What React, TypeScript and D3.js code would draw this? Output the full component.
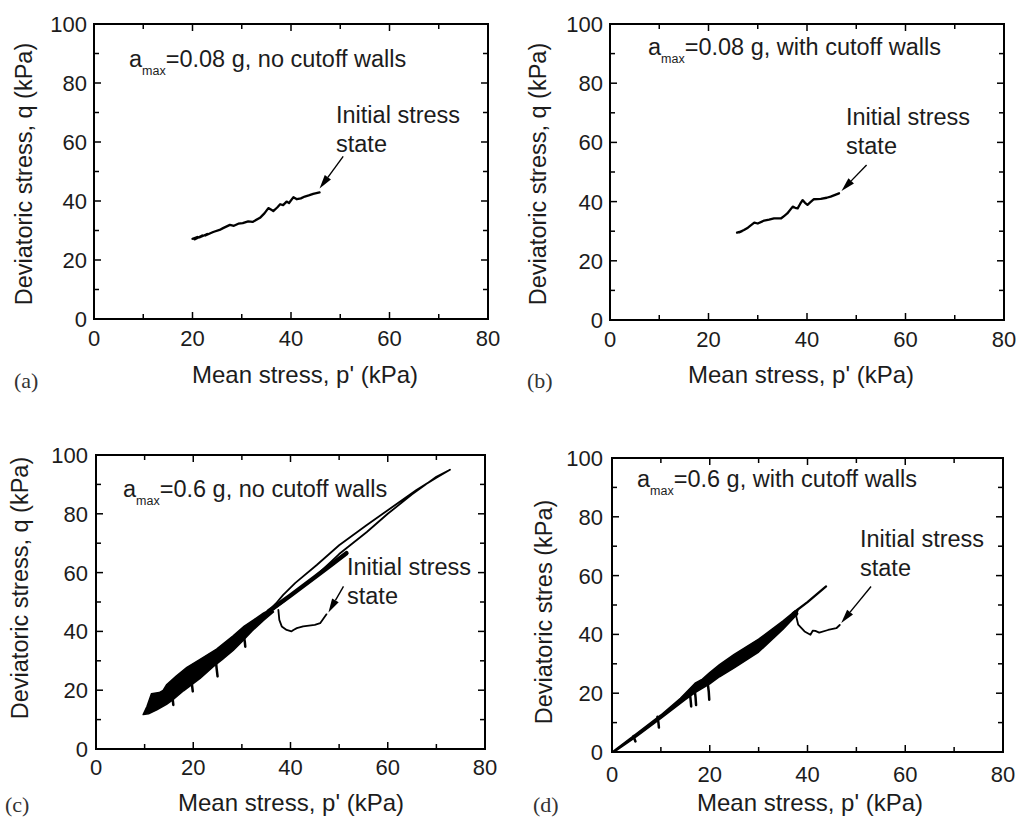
import React from "react";
import * as d3 from "d3";

type Pt = [number, number];

// ---- axis ticks ----
const xMajor = [0, 20, 40, 60, 80];
const xMinor = [10, 30, 50, 70];
const yMajor = [0, 20, 40, 60, 80, 100];
const yMinor = [10, 30, 50, 70, 90];

// ---- panel (a): a_max = 0.08 g, no cutoff walls ----
const pathA: Pt[] = [
  [20.0, 27.2], [21.0, 27.8], [20.4, 27.0], [22.0, 28.3], [21.5, 27.7], [23.0, 28.8],
  [22.6, 28.3], [24.2, 29.5], [25.5, 30.2], [26.2, 30.8], [27.6, 31.9], [28.4, 31.6],
  [29.3, 32.3], [30.2, 32.5], [31.3, 33.1], [32.2, 32.9], [33.7, 34.3], [34.6, 35.8],
  [35.4, 37.6], [36.0, 37.0], [36.4, 36.6], [37.2, 37.8], [37.8, 38.9], [38.4, 38.6],
  [39.1, 39.8], [39.6, 39.3], [40.5, 41.3], [41.2, 40.6], [42.0, 40.9], [42.8, 41.5],
  [43.6, 41.9], [44.5, 42.4], [45.8, 42.9],
];
const arrowA: Pt[] = [[50.6, 55.1], [45.8, 44.2]];

// ---- panel (b): a_max = 0.08 g, with cutoff walls ----
const pathB: Pt[] = [
  [25.8, 29.5], [26.8, 30.0], [26.2, 29.6], [27.2, 30.4], [28.0, 31.2], [29.3, 32.9],
  [30.0, 32.6], [31.3, 33.6], [32.3, 33.9], [33.3, 34.3], [34.7, 34.3], [35.4, 35.2],
  [36.0, 36.0], [37.1, 38.3], [37.6, 37.9], [38.1, 37.7], [38.6, 39.2], [39.1, 40.5],
  [39.6, 39.6], [40.1, 38.9], [40.7, 39.8], [41.4, 40.8], [42.8, 40.9], [44.0, 41.3],
  [44.8, 41.7], [46.5, 42.8],
];
const arrowB: Pt[] = [[52.1, 52.4], [47.0, 43.6]];

// ---- panel (c): a_max = 0.6 g, no cutoff walls ----
const bandC: Pt[] = [
  [9.7, 11.7], [10.5, 14.5], [11.4, 18.8], [13.0, 19.2], [13.8, 19.9], [14.5, 21.8],
  [16.5, 24.8], [18.7, 27.8], [21.4, 30.5], [24.8, 34.0], [28.2, 38.5], [30.5, 41.8],
  [32.5, 44.0], [34.5, 46.3], [36.0, 47.6],
  [36.5, 46.6], [34.5, 43.8], [32.0, 40.0], [30.0, 36.5], [28.2, 33.5], [26.0, 30.5],
  [24.1, 28.0], [21.4, 24.0], [18.0, 19.8], [16.0, 17.0], [14.5, 15.2], [12.5, 13.3],
  [10.8, 12.0],
];
const spikesC: Pt[][] = [
  [[24.6, 30.8], [24.8, 27.5], [25.0, 24.7]],
  [[30.3, 39.5], [30.6, 36.5], [30.7, 34.8]],
  [[15.6, 18.5], [15.8, 16.5], [15.9, 15.0]],
  [[19.6, 23.5], [19.8, 21.0], [19.9, 19.6]],
];
const loopC: Pt[] = [
  [35.5, 47.0], [37.0, 49.5], [38.5, 52.4], [41.0, 56.5], [45.4, 62.6], [50.0, 69.3],
  [55.7, 76.2], [60.0, 81.2], [65.9, 88.1], [70.0, 92.3], [72.8, 95.0], [70.0, 92.6],
  [65.0, 86.6], [60.0, 80.0], [55.7, 73.8], [50.0, 66.3], [45.4, 59.1], [41.0, 53.5],
  [38.5, 50.0], [36.0, 47.0],
];
const thickC: Pt[] = [[35.5, 46.8], [40.0, 52.2], [45.0, 58.4], [48.0, 62.2], [51.5, 66.6]];
const initC: Pt[] = [
  [47.4, 45.8], [46.1, 42.8], [45.0, 42.2], [42.6, 41.7], [41.3, 41.1], [40.6, 40.5],
  [40.2, 40.0], [39.2, 40.5], [38.2, 41.7], [37.7, 43.9], [37.5, 47.3],
];
const arrowC: Pt[] = [[50.9, 55.3], [47.8, 46.4]];

// ---- panel (d): a_max = 0.6 g, with cutoff walls ----
const bandD: Pt[] = [
  [0, 0], [5, 6.3], [10, 12.6], [14, 18.3], [15.5, 20.8], [17, 23.4], [18.5, 24.8],
  [20, 27.0], [22, 29.7], [25, 33.2], [30, 38.4], [35, 44.6], [37.5, 48.0],
  [38, 47.0], [35, 41.8], [30, 34.0], [25, 28.6], [22, 25.6], [20, 23.2], [17, 20.2],
  [15, 17.8], [10, 11.4], [5, 5.2], [1, 0.6],
];
const tailD: Pt[] = [[37.0, 47.2], [40.0, 51.0], [43.8, 56.3]];
const spikesD: Pt[][] = [
  [[9.3, 12.0], [9.5, 10.0], [9.6, 8.3]],
  [[15.9, 20.5], [16.1, 17.5], [16.2, 15.5]],
  [[16.9, 21.5], [17.1, 18.5], [17.2, 16.0]],
  [[19.5, 24.5], [19.8, 20.5], [19.9, 17.8]],
  [[4.4, 5.4], [4.6, 4.4], [4.8, 3.6]],
];
const initD: Pt[] = [
  [46.6, 43.2], [45.9, 42.1], [44.2, 41.5], [42.4, 40.6], [41.6, 41.2], [41.1, 41.3],
  [40.6, 39.9], [39.4, 41.0], [38.1, 43.3], [37.7, 46.1], [38.0, 48.4],
];
const arrowD: Pt[] = [[53.0, 56.3], [46.9, 43.9]];

// ---- texts ----
const xTitle = "Mean stress, p' (kPa)";
const yTitleQ = "Deviatoric stress, q (kPa)";
const yTitleD = "Deviatoric stres (kPa)";
const annotA = "=0.08 g, no cutoff walls";
const annotB = "=0.08 g, with cutoff walls";
const annotC = "=0.6 g, no cutoff walls";
const annotD = "=0.6 g, with cutoff walls";

const SANS = "'Liberation Sans', Arial, Helvetica, sans-serif";
const SERIF = "'Liberation Serif', 'Times New Roman', serif";
const TXT = "#1c1c1c";
const FS_TICK = 22;
const FS_TEXT = 23.5;

type PanelProps = {
  L: number; R: number; T: number; B: number;
  fills?: Pt[][];
  lines: { pts: Pt[]; w: number }[];
  arrow: Pt[];
  annot: string; annotX: number; annotY: number;
  initX: number; initY: number;
  xTitleX: number; xTitleY: number;
  yTitle: string; yTitleX: number; yTitleY: number;
  tag: string; tagX: number; tagY: number;
  xLabOff: number; yLabGap: number;
};

function Panel(p: PanelProps) {
  const x = d3.scaleLinear().domain([0, 80]).range([p.L, p.R]);
  const y = d3.scaleLinear().domain([0, 100]).range([p.B, p.T]);
  const line = d3.line<Pt>().x((d) => x(d[0])).y((d) => y(d[1]));
  const MAJ = 7;
  const MIN = 5;

  const [s, t] = p.arrow;
  const sx = x(s[0]), sy = y(s[1]), tx = x(t[0]), ty = y(t[1]);
  const ang = Math.atan2(ty - sy, tx - sx);
  const hl = 14, hw = 3.8;
  const bx = tx - hl * Math.cos(ang), by = ty - hl * Math.sin(ang);
  const head = [
    [tx, ty],
    [bx + hw * Math.sin(ang), by - hw * Math.cos(ang)],
    [bx - hw * Math.sin(ang), by + hw * Math.cos(ang)],
  ].map((q) => q.join(",")).join(" ");

  return (
    <g>
      {(p.fills || []).map((f, i) => (
        <path key={"f" + i} d={line(f) + "Z"} fill="#000" stroke="#000" strokeWidth={1.5} strokeLinejoin="round" />
      ))}
      {p.lines.map((l, i) => (
        <path key={"l" + i} d={line(l.pts) || ""} fill="none" stroke="#000" strokeWidth={l.w} strokeLinejoin="round" strokeLinecap="round" />
      ))}
      <line x1={sx} y1={sy} x2={bx} y2={by} stroke="#000" strokeWidth={1.4} />
      <polygon points={head} fill="#000" />

      {/* ticks */}
      {xMajor.concat(xMinor).map((v) => {
        const len = xMajor.includes(v) ? MAJ : MIN;
        return (
          <g key={"xt" + v}>
            <line x1={x(v)} x2={x(v)} y1={p.B} y2={p.B - len} stroke="#000" strokeWidth={1.5} />
            <line x1={x(v)} x2={x(v)} y1={p.T} y2={p.T + len} stroke="#000" strokeWidth={1.5} />
          </g>
        );
      })}
      {yMajor.concat(yMinor).map((v) => {
        const len = yMajor.includes(v) ? MAJ : MIN;
        return (
          <g key={"yt" + v}>
            <line y1={y(v)} y2={y(v)} x1={p.L} x2={p.L + len} stroke="#000" strokeWidth={1.5} />
            <line y1={y(v)} y2={y(v)} x1={p.R} x2={p.R - len} stroke="#000" strokeWidth={1.5} />
          </g>
        );
      })}
      <rect x={p.L} y={p.T} width={p.R - p.L} height={p.B - p.T} fill="none" stroke="#000" strokeWidth={2} />

      {/* tick labels */}
      {xMajor.map((v) => (
        <text key={"xl" + v} x={x(v)} y={p.B + p.xLabOff} textAnchor="middle" fontFamily={SANS} fontSize={FS_TICK} fill={TXT}>
          {v}
        </text>
      ))}
      {yMajor.map((v) => (
        <text key={"yl" + v} x={p.L - p.yLabGap} y={y(v)} dy="0.36em" textAnchor="end" fontFamily={SANS} fontSize={FS_TICK} fill={TXT}>
          {v}
        </text>
      ))}

      {/* annotation */}
      <text x={p.annotX} y={p.annotY} fontFamily={SANS} fontSize={FS_TEXT} fill={TXT}>
        a
        <tspan fontSize={12.5} dy={8}>max</tspan>
        <tspan dy={-8}>{p.annot}</tspan>
      </text>
      <text x={p.initX} y={p.initY} fontFamily={SANS} fontSize={FS_TEXT} fill={TXT}>Initial stress</text>
      <text x={p.initX} y={p.initY + 29} fontFamily={SANS} fontSize={FS_TEXT} fill={TXT}>state</text>

      {/* axis titles */}
      <text x={p.xTitleX} y={p.xTitleY} textAnchor="middle" fontFamily={SANS} fontSize={24} fill={TXT}>
        {xTitle}
      </text>
      <text
        transform={`translate(${p.yTitleX},${p.yTitleY}) rotate(-90)`}
        dy="0.36em"
        textAnchor="middle"
        fontFamily={SANS}
        fontSize={23.5}
        fill={TXT}
      >
        {p.yTitle}
      </text>
      <text x={p.tagX} y={p.tagY} fontFamily={SERIF} fontSize={22} fill="#333">{p.tag}</text>
    </g>
  );
}

export default function App() {
  return (
    <svg width={1022} height={821} style={{ position: "absolute", left: 0, top: 0, background: "#fff" }}>
      <rect width={1022} height={821} fill="#fff" />
      <Panel
        L={94} R={488} T={24} B={319}
        lines={[{ pts: pathA, w: 2.3 }]}
        arrow={arrowA}
        annot={annotA} annotX={129} annotY={67}
        initX={336} initY={123}
        xTitleX={305} xTitleY={383}
        yTitle={yTitleQ} yTitleX={24} yTitleY={174}
        tag="(a)" tagX={14} tagY={388}
        xLabOff={27} yLabGap={7}
      />
      <Panel
        L={610} R={1004} T={24} B={320}
        lines={[{ pts: pathB, w: 2.3 }]}
        arrow={arrowB}
        annot={annotB} annotX={648} annotY={55}
        initX={846} initY={125}
        xTitleX={801} xTitleY={383}
        yTitle={yTitleQ} yTitleX={538} yTitleY={174}
        tag="(b)" tagX={527} tagY={388}
        xLabOff={27} yLabGap={7}
      />
      <Panel
        L={96} R={485} T={455} B={749}
        fills={[bandC]}
        lines={[
          { pts: loopC, w: 1.8 },
          { pts: thickC, w: 4.5 },
          { pts: initC, w: 1.8 },
          ...spikesC.map((s) => ({ pts: s, w: 2.5 })),
        ]}
        arrow={arrowC}
        annot={annotC} annotX={123} annotY={497}
        initX={347} initY={575}
        xTitleX={291} xTitleY={811}
        yTitle={yTitleQ} yTitleX={20} yTitleY={588}
        tag="(c)" tagX={5} tagY={812}
        xLabOff={26} yLabGap={8}
      />
      <Panel
        L={612} R={1003} T={458} B={752}
        fills={[bandD]}
        lines={[
          { pts: tailD, w: 2.3 },
          { pts: initD, w: 1.8 },
          ...spikesD.map((s) => ({ pts: s, w: 2.5 })),
        ]}
        arrow={arrowD}
        annot={annotD} annotX={637} annotY={487}
        initX={860} initY={547}
        xTitleX={810} xTitleY={811}
        yTitle={yTitleD} yTitleX={544} yTitleY={612}
        tag="(d)" tagX={533} tagY={812}
        xLabOff={30} yLabGap={9}
      />
    </svg>
  );
}
